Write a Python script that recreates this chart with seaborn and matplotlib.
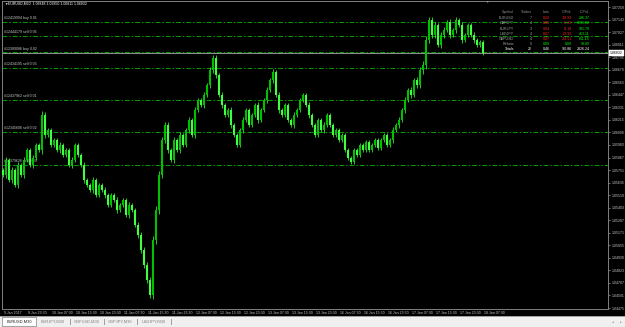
import matplotlib
matplotlib.use("Agg")
import matplotlib.pyplot as plt
import matplotlib.transforms as mtrans
from matplotlib.patches import Rectangle
import numpy as np
import pandas as pd
import seaborn as sns

sns.set_theme(style="dark")
plt.rcParams['font.family'] = ['Liberation Sans', 'DejaVu Sans']

W, H = 625, 327

# ---------------- data ----------------
first_open = 1.05752
closes = [
    1.05705, 1.05844, 1.05659, 1.05752, 1.05613, 1.05798, 1.05705, 1.05844, 1.05937, 1.05798,
    1.05863, 1.05983, 1.05937, 1.06260, 1.06075, 1.06122, 1.05983, 1.06029, 1.05937, 1.05983,
    1.05890, 1.05937, 1.05798, 1.05844, 1.05983, 1.05890, 1.05798, 1.05659, 1.05613, 1.05567,
    1.05659, 1.05520, 1.05613, 1.05567, 1.05520, 1.05428, 1.05520, 1.05474, 1.05382, 1.05428,
    1.05474, 1.05335, 1.05428, 1.05382, 1.05243, 1.05150, 1.05012, 1.04873, 1.04734, 1.04595,
    1.05104, 1.05382, 1.05705, 1.06029, 1.06168, 1.05937, 1.05844, 1.06029, 1.05937, 1.06075,
    1.05983, 1.06122, 1.06214, 1.06075, 1.06307, 1.06399, 1.06353, 1.06445, 1.06538, 1.06677,
    1.06788, 1.06630, 1.06445, 1.06353, 1.06260, 1.06307, 1.06168, 1.06075, 1.05983, 1.06122,
    1.06214, 1.06307, 1.06168, 1.06260, 1.06353, 1.06214, 1.06307, 1.06399, 1.06492, 1.06584,
    1.06658, 1.06445, 1.06307, 1.06260, 1.06353, 1.06214, 1.06168, 1.06260, 1.06307, 1.06399,
    1.06445, 1.06353, 1.06260, 1.06168, 1.06075, 1.06214, 1.06122, 1.06168, 1.06260, 1.06168,
    1.06075, 1.06122, 1.06029, 1.06075, 1.05937, 1.05863, 1.05826, 1.05937, 1.05890, 1.05983,
    1.05937, 1.06011, 1.05937, 1.05983, 1.06029, 1.05955, 1.06029, 1.06075, 1.05983, 1.06029,
    1.06122, 1.06168, 1.06214, 1.06307, 1.06399, 1.06492, 1.06445, 1.06584, 1.06538, 1.06677,
    1.06723, 1.06954, 1.07139, 1.07000, 1.07093, 1.06908, 1.07000, 1.07047, 1.07121, 1.07000,
    1.07047, 1.07139, 1.07093, 1.06954, 1.07000, 1.07093, 1.07000, 1.06954, 1.06908, 1.06936,
    1.06832,
]
# wick extent of each candle beyond its body, in pips (0.0001)
wick_pips = [
    4, 6, 3, 5, 4, 6, 3, 5, 4, 3, 5, 4, 3,
    8,
    5, 4, 3, 4, 3, 5, 3, 4, 3, 5, 4, 3, 4, 5,
    4, 3, 5, 3, 4, 3, 5, 4, 3, 4, 5, 3, 4, 3, 5, 4, 3, 5, 6, 5, 6,
    6,
    8, 7, 8, 6,
    5, 6, 4, 5, 4, 5, 4, 3, 5, 4, 5, 4, 3, 5, 4, 5,
    6,
    5, 4, 5, 3, 4, 5, 4, 3, 4, 5, 3, 4, 3, 4, 5, 3, 4, 5, 4,
    5,
    4, 5, 3, 4, 3, 4, 5, 3, 4, 3, 4, 5, 3, 4, 3, 4, 5, 3, 4, 3, 4, 3,
    4, 3, 4, 3, 4, 3, 3, 4, 3, 4, 3, 3, 4, 3, 4, 3, 4, 5, 4, 5, 4, 5, 4, 5, 4, 5,
    6, 8, 7, 5, 6, 5, 4, 5, 6, 4, 5, 4, 5, 4, 5, 4, 3, 4, 5, 4, 3, 4,
]
current_price = 1.06832

time_labels = ["9 Jan 2017", "9 Jan 23:30", "10 Jan 07:30", "10 Jan 15:30", "10 Jan 23:30",
               "11 Jan 07:30", "11 Jan 15:30", "11 Jan 23:30", "12 Jan 07:30", "12 Jan 15:30",
               "12 Jan 23:30", "13 Jan 07:30", "13 Jan 15:30", "13 Jan 23:30", "16 Jan 07:30",
               "16 Jan 15:30", "16 Jan 23:30", "17 Jan 07:30", "17 Jan 15:30", "17 Jan 23:30",
               "18 Jan 07:30"]
time_label_bars = [0, 8, 16, 24, 32, 40, 48, 56, 64, 72, 80, 88, 96, 104, 112,
                   120, 128, 136, 144, 152, 160]

price_ticks = [1.04475, 1.04591, 1.04707, 1.04823, 1.04939, 1.05055, 1.05171, 1.05287,
               1.05403, 1.05519, 1.05635, 1.05751, 1.05867, 1.05983, 1.06099, 1.06215,
               1.06331, 1.06447, 1.06563, 1.06679, 1.06795, 1.06911, 1.07027, 1.07143,
               1.07259]

order_prices = [1.07121, 1.06991, 1.06840, 1.06695, 1.06399, 1.06103, 1.05798]
order_labels = ["#12419994 buy 0.01", "#12444179 sell 0.06", "#12389086 buy 0.02",
                "#12434195 sell 0.05", "#12437962 sell 0.01", "#12345606 sell 0.02",
                "#12379626 sell 0.03"]

tbl_symbols = ["EURUSD", "GBPJPY", "EURJPY", "USDJPY", "GBPUSD", "Rebate", "Totals"]
tbl_trades = ["7", "4", "3", "4", "4", "0", "22"]
tbl_lots = ["0.22", "0.06", "0.04", "0.07", "0.07", "0.00", "0.46"]
tbl_opnl = ["-38.93", "-5.29", "-8.18", "-13.95", "-24.51", "0.00", "-90.86"]
tbl_cpnl = ["236.37", "1280.02", "191.79", "413.11", "611.15", "93.80", "2826.24"]

tabs = ["EURUSD,M30", "EURJPY,M30", "GBPUSD,M30", "GBPJPY,M30", "USDJPY,M30"]

# ---------------- figure ----------------
df = pd.DataFrame({"bar": np.arange(len(closes)), "close": closes,
                   "wick": np.array(wick_pips) * 0.0001})
df["open"] = [first_open] + closes[:-1]
df["top"] = df[["open", "close"]].max(axis=1)
df["bot"] = df[["open", "close"]].min(axis=1)
df["top"] = np.maximum(df["top"], df["bot"] + 0.00009)
df["high"] = df["top"] + df["wick"] * 0.5
df["low"] = df["bot"] - df["wick"] * 0.5
df["up"] = df["close"] >= df["open"]

fig = plt.figure(figsize=(W / 100, H / 100), dpi=100, facecolor="black")
ax = fig.add_axes([2 / W, 1 - 309 / H, 606 / W, 308 / H])
ax.set_facecolor("black")

px = 0.0000925  # price per pixel
ax.set_xlim((2 - 3) / 3, (608 - 3) / 3)
ax.set_ylim(1.04475 - px, 1.04475 + 307 * px)

# order lines
for p, lab in zip(order_prices, order_labels):
    ax.axhline(p, color="#00a000", lw=0.7, ls=(0, (5, 2, 1.5, 2)), zorder=1)
    ax.annotate(lab, (0.3, p), xytext=(0, 1.2), textcoords="offset points",
                color="#c8c8c8", fontsize=2.6, va="bottom", ha="left")

# bid line
ax.axhline(current_price, color="#a8a8a8", lw=0.6, zorder=2)

# candles: wicks + bodies
ax.vlines(df["bar"], df["low"], df["high"], color="#30ff30", lw=0.55, zorder=3)
upd = df[df["up"]]
dnd = df[~df["up"]]
ax.vlines(upd["bar"], upd["bot"], upd["top"], color="#00c000", lw=1.5, zorder=4)
ax.vlines(dnd["bar"], dnd["bot"], dnd["top"], color="#40ff40", lw=1.5, zorder=4)

# axes styling
for s in ax.spines.values():
    s.set_color("#808080")
    s.set_linewidth(0.7)
ax.grid(False)
ax.yaxis.tick_right()
ax.set_yticks(price_ticks)
ax.set_yticklabels([f"{v:.5f}" for v in price_ticks], fontsize=2.5, color="#c8c8c8")
ax.tick_params(axis="y", length=1.5, width=0.5, pad=1, color="#a0a0a0")
ax.set_xticks(time_label_bars)
ax.set_xticklabels([])
ax.tick_params(axis="x", length=2.5, width=0.5, color="#a0a0a0", direction="out")

trans = mtrans.blended_transform_factory(ax.transData, ax.transAxes)
for b, lab in zip(time_label_bars, time_labels):
    ax.text(b + 0.5, -4 / 308, lab, transform=trans, fontsize=2.5, color="#c8c8c8",
            ha="left", va="center")

# current price box
transy = mtrans.blended_transform_factory(ax.transAxes, ax.transData)
ax.text(1.0 + 2 / 606, current_price, f"{current_price:.5f}", transform=transy,
        fontsize=2.5, color="black", ha="left", va="center",
        bbox=dict(boxstyle="square,pad=0.25", fc="white", ec="white", lw=0.3))

# title
fig.text(4 / W, 1 - 4 / H, "\u25BC", color="white", fontsize=2.5, ha="left", va="center")
fig.text(8 / W, 1 - 4 / H, "EURUSD,M30  1.06848 1.06850 1.06811 1.06832",
         color="white", fontsize=2.5, ha="left", va="center")
fig.text(487 / W, 1 - 1.5 / H, "\u25BC", color="#a0a0a0", fontsize=2.5, ha="center", va="center")

# summary table
rows_y = [18, 23.5, 29, 34, 39, 44, 49]
cols_x = [514, 532, 550, 572, 590]
headers = ["Symbol", "Trades", "Lots", "O.PnL", "C.PnL"]
for cx, htxt in zip(cols_x, headers):
    fig.text(cx / W, 1 - 12 / H, htxt, color="#909090", fontsize=2.6, ha="right", va="center")
for i, ry in enumerate(rows_y):
    last = i == len(rows_y) - 1
    reb = i == len(rows_y) - 2
    vals = [tbl_symbols[i], tbl_trades[i], tbl_lots[i], tbl_opnl[i], tbl_cpnl[i]]
    if last:
        colors = ["white"] * 5
    elif reb:
        colors = ["#a0a0a0", "#a0a0a0", "#00ff00", "#00ff00", "#00ff00"]
    else:
        colors = ["#a0a0a0", "#a0a0a0", "#ff2020", "#ff2020", "#00ff00"]
    for cx, v, c in zip(cols_x, vals, colors):
        fig.text(cx / W, 1 - ry / H, v, color=c, fontsize=2.6, ha="right", va="center")

# tab bar
fig.patches.append(Rectangle((0, 0), 1, 10 / H, transform=fig.transFigure,
                             fc="#f0f0f0", ec="none", zorder=0))
fig.patches.append(Rectangle((0, 10 / H), 1, 1 / H, transform=fig.transFigure,
                             fc="#a0a0a0", ec="none", zorder=0))
tab_edges = [2, 36, 70, 104, 137, 171]
for k, t in enumerate(tabs):
    x0, x1 = tab_edges[k], tab_edges[k + 1]
    if k == 0:
        fig.patches.append(Rectangle((x0 / W, 1 / H), (x1 - x0) / W, 9 / H,
                                     transform=fig.transFigure, fc="white",
                                     ec="#808080", lw=0.5, zorder=1))
        col = "#202020"
    else:
        fig.patches.append(Rectangle((x1 / W, 2.5 / H), 0.6 / W, 6 / H,
                                     transform=fig.transFigure, fc="#a0a0a0",
                                     ec="none", zorder=1))
        col = "#808080"
    fig.text((x0 + x1) / 2 / W, 5.5 / H, t, color=col, fontsize=2.9, ha="center", va="center")
fig.text(613 / W, 5 / H, "\u25C2", color="#808080", fontsize=2.5, ha="center", va="center")
fig.text(621 / W, 5 / H, "\u25B8", color="#808080", fontsize=2.5, ha="center", va="center")

fig.savefig("out.png", dpi=100, facecolor="black")
